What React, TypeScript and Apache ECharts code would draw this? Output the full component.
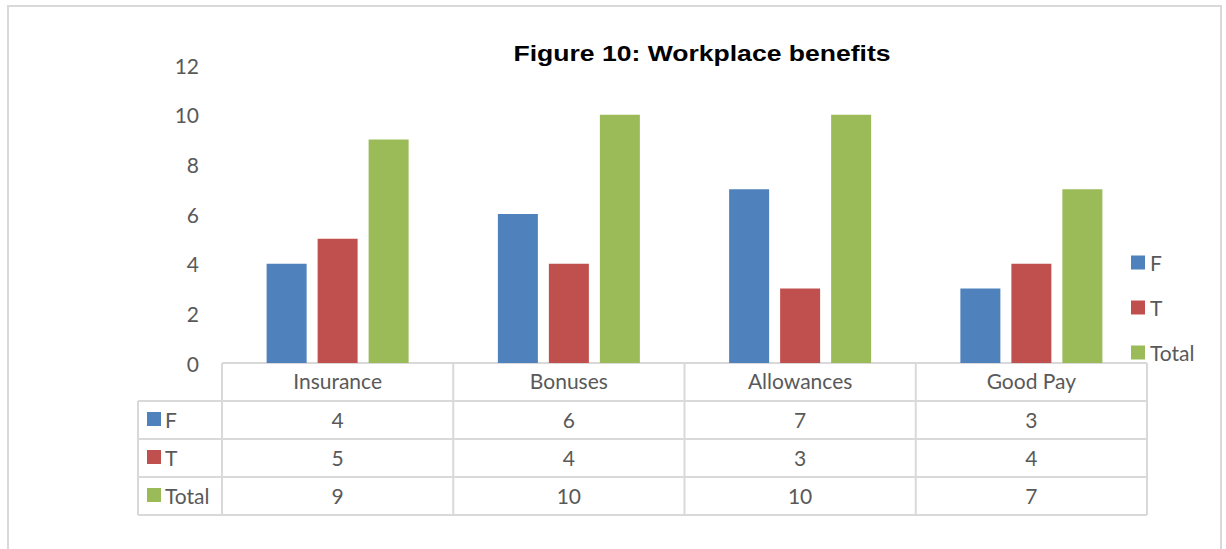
import React, { useEffect, useRef } from "react";
import * as echarts from "echarts";

const titleText = "Figure 10: Workplace benefits";
const categories = ["Insurance", "Bonuses", "Allowances", "Good Pay"];
const seriesNames = ["F", "T", "Total"];
const fValues = [4, 6, 7, 3];
const tValues = [5, 4, 3, 4];
const totalValues = [9, 10, 10, 7];
const seriesColors = ["#4F81BD", "#C0504D", "#9BBB59"];
const yMin = 0;
const yMax = 12;
const yInterval = 2;

const W = 1226;
const H = 549;
const GRID_LEFT = 222;
const GRID_RIGHT_X = 1147;
const GRID_TOP = 65;
const GRID_BOTTOM_Y = 363;
const ROW_H = 38;
const TABLE_LEFT = 138;
const TEXT_COLOR = "#595959";
const LINE_COLOR = "#D9D9D9";
const FONT = "Lato, 'Open Sans', sans-serif";
const FS = 21;

export default function App() {
  const ref = useRef<HTMLDivElement>(null);
  useEffect(() => {
    if (!ref.current) return;
    const chart = echarts.init(ref.current, undefined, { renderer: "svg" });
    const allValues = [fValues, tValues, totalValues];

    const colW = (GRID_RIGHT_X - GRID_LEFT) / categories.length;
    const tableBottom = GRID_BOTTOM_Y + ROW_H * (seriesNames.length + 1);
    const lineStyle = { stroke: LINE_COLOR, lineWidth: 2 };
    const graphics: any[] = [];

    graphics.push({
      type: "rect",
      shape: { x: 8, y: 6, width: 1213, height: 600 },
      style: { fill: "none", stroke: LINE_COLOR, lineWidth: 2 },
      silent: true,
    });
    graphics.push({
      type: "text",
      x: 702,
      y: 53,
      scaleX: 1.18,
      style: {
        text: titleText,
        font: "bold 22.5px 'Liberation Sans', Arial, sans-serif",
        fill: "#000000",
        align: "center",
        verticalAlign: "middle",
      },
    });
    graphics.push({
      type: "line",
      shape: { x1: GRID_LEFT, y1: GRID_BOTTOM_Y, x2: GRID_RIGHT_X, y2: GRID_BOTTOM_Y },
      style: lineStyle,
    });
    for (let r = 1; r <= seriesNames.length + 1; r++) {
      const y = GRID_BOTTOM_Y + r * ROW_H;
      graphics.push({
        type: "line",
        shape: { x1: TABLE_LEFT, y1: y, x2: GRID_RIGHT_X, y2: y },
        style: lineStyle,
      });
    }
    graphics.push({
      type: "line",
      shape: { x1: TABLE_LEFT, y1: GRID_BOTTOM_Y + ROW_H, x2: TABLE_LEFT, y2: tableBottom },
      style: lineStyle,
    });
    for (let c = 0; c <= categories.length; c++) {
      const x = GRID_LEFT + c * colW;
      graphics.push({
        type: "line",
        shape: { x1: x, y1: GRID_BOTTOM_Y, x2: x, y2: tableBottom },
        style: lineStyle,
      });
    }
    seriesNames.forEach((name, si) => {
      const cy = GRID_BOTTOM_Y + ROW_H * (si + 1) + ROW_H / 2 - 1;
      graphics.push({
        type: "rect",
        shape: { x: 147, y: cy - 7, width: 14, height: 14 },
        style: { fill: seriesColors[si] },
      });
      graphics.push({
        type: "text",
        x: 165,
        y: cy,
        style: {
          text: name,
          font: `${FS}px ${FONT}`,
          fill: TEXT_COLOR,
          align: "left",
          verticalAlign: "middle",
        },
      });
      allValues[si].forEach((v, ci) => {
        graphics.push({
          type: "text",
          x: GRID_LEFT + colW * (ci + 0.5),
          y: cy,
          style: {
            text: String(v),
            font: `${FS}px ${FONT}`,
            fill: TEXT_COLOR,
            align: "center",
            verticalAlign: "middle",
          },
        });
      });
    });

    chart.setOption({
      animation: false,
      backgroundColor: "#ffffff",
      textStyle: { fontFamily: FONT },
      grid: {
        left: GRID_LEFT,
        right: W - GRID_RIGHT_X,
        top: GRID_TOP,
        bottom: H - GRID_BOTTOM_Y,
        containLabel: false,
      },
      legend: {
        orient: "vertical",
        left: 1126,
        top: 247,
        itemWidth: 14,
        itemHeight: 14,
        itemGap: 24,
        icon: "rect",
        textStyle: { color: TEXT_COLOR, fontSize: FS, fontFamily: FONT },
        data: seriesNames,
      },
      xAxis: {
        type: "category",
        data: categories,
        axisLine: { show: false },
        axisTick: { show: false },
        axisLabel: {
          color: TEXT_COLOR,
          fontSize: FS,
          fontFamily: FONT,
          margin: 7,
          interval: 0,
        },
      },
      yAxis: {
        type: "value",
        min: yMin,
        max: yMax,
        interval: yInterval,
        splitLine: { show: false },
        axisLine: { show: false },
        axisTick: { show: false },
        axisLabel: {
          color: TEXT_COLOR,
          fontSize: FS,
          fontFamily: FONT,
          margin: 23,
          padding: [0, 0, 3, 0],
        },
      },
      series: seriesNames.map((name, i) => ({
        name,
        type: "bar",
        data: allValues[i],
        barWidth: 40,
        barGap: "27.5%",
        itemStyle: { color: seriesColors[i] },
      })),
      graphic: graphics,
    });
    return () => chart.dispose();
  }, []);
  return (
    <div
      ref={ref}
      style={{ position: "fixed", left: 0, top: 0, width: W, height: H, background: "#fff" }}
    />
  );
}
